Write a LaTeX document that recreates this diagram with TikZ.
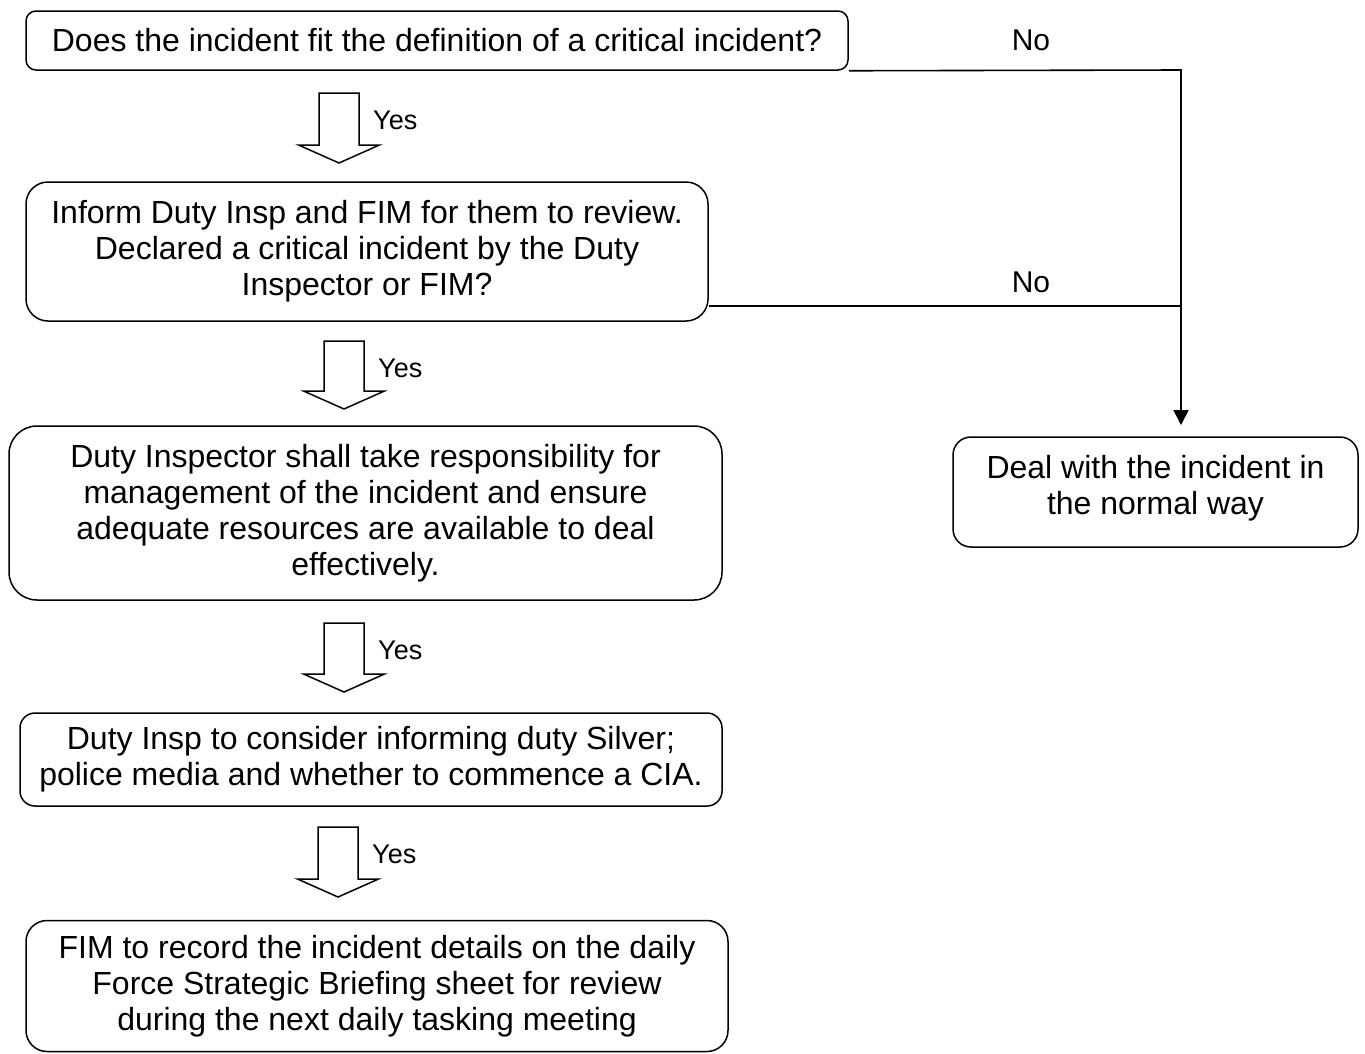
\documentclass[tikz,border=0pt]{standalone}
\usepackage{fontspec}
\setmainfont{Liberation Sans}
\usetikzlibrary{arrows.meta, positioning, calc}
\definecolor{boxLine}{RGB}{0, 0, 0}

\begin{document}
\begin{tikzpicture}[x=1pt, y=-1pt,
    flowbox/.style={draw=boxLine, line width=1.5pt, align=center, inner sep=0pt,
        font=\fontsize{32}{36}\selectfont},
    answer/.style={font=\fontsize{27}{30}\selectfont, inner sep=0pt},
    refuse/.style={font=\fontsize{30}{34}\selectfont, inner sep=0pt},
    link/.style={draw=boxLine, line width=1.6pt}]
    \useasboundingbox (0,0) rectangle (1365,1053);

    % main column
    \node[flowbox, rounded corners=10pt, minimum width=822pt, minimum height=59pt] (check) at (437,40.5)
        {Does the incident fit the definition of a critical incident?};
    \node[flowbox, rounded corners=22pt, minimum width=682pt, minimum height=139pt] (declare) at (367,251.5)
        {Inform Duty Insp and FIM for them to review.\\
         Declared a critical incident by the Duty\\
         Inspector or FIM?};
    \node[flowbox, rounded corners=28pt, minimum width=713pt, minimum height=174pt] (manage) at (365.5,513)
        {Duty Inspector shall take responsibility for\\
         management of the incident and ensure\\
         adequate resources are available to deal\\
         effectively.};
    \node[flowbox, rounded corners=15pt, minimum width=702pt, minimum height=93pt] (inform) at (371,759.5)
        {Duty Insp to consider informing duty Silver;\\
         police media and whether to commence a CIA.};
    \node[flowbox, rounded corners=21pt, minimum width=702pt, minimum height=131pt] (record) at (377,986)
        {FIM to record the incident details on the daily\\
         Force Strategic Briefing sheet for review\\
         during the next daily tasking meeting};

    % side branch
    \node[flowbox, rounded corners=18pt, minimum width=405pt, minimum height=110pt,
        text depth=14pt] (normal) at (1155.5,492)
        {Deal with the incident in\\ the normal way};

    % block arrows with Yes labels
    \foreach \ax/\atop/\atip/\name in {339/93/163/yesA, 344/341/409/yesB, 344/623/692/yesC, 338/827/897/yesD} {
        \draw[line width=1.5pt, line join=miter]
            (\ax-20,\atop) -- (\ax+20,\atop) -- (\ax+20,\atip-18) -- (\ax+40.5,\atip-18)
            -- (\ax,\atip) -- (\ax-40.5,\atip-18) -- (\ax-20,\atip-18) -- cycle;
        \node[answer, anchor=west] (\name) at (\ax+34,\atop+27) {Yes};
    }

    % No branches
    \coordinate (turn) at (1181,70);
    \coordinate (dropEnd) at (1181,425);
    \coordinate (declareOut) at ($(declare.south east)+(0,-16)$);
    \draw[link, -{Triangle[length=15pt, width=15pt]}] (check.south east) -- (turn) -- (dropEnd);
    \draw[link] (declareOut) -- (declareOut -| turn);
    \node[refuse] (noA) at (1031,40) {No};
    \node[refuse] (noB) at (1031,282) {No};
\end{tikzpicture}
\end{document}
